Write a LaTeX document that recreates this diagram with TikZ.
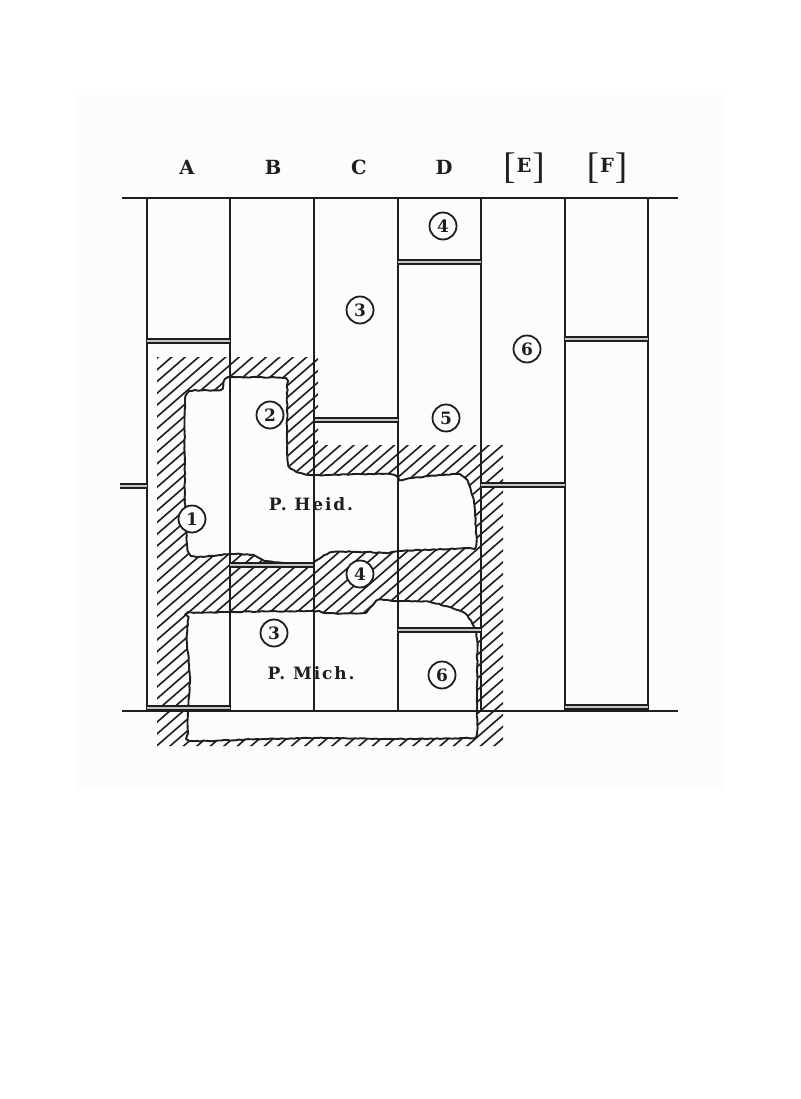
\documentclass[tikz,border=0pt]{standalone}
\usepackage{fontspec}
\setmainfont{DejaVu Serif}
\newfontfamily\lblfont[LetterSpace=11]{DejaVu Serif}
\newfontfamily\brkfont{Liberation Serif}
\usetikzlibrary{decorations.pathmorphing}
\definecolor{ink}{HTML}{1E1E1E}
\definecolor{paper}{HTML}{FDFCFA}
\tikzset{
  gridline/.style={draw=ink,line width=1.8pt},
  wall/.style={draw=ink,line width=2pt},
  bar/.style={draw=ink,double=gray!45,double distance=1.8pt,line width=1.9pt},
  hatchline/.style={draw=ink,line width=1.6pt},
  edge/.style={draw=ink,line width=1.9pt,line join=round,decorate,decoration={random steps,segment length=3pt,amplitude=.45pt}},
  num/.style={circle,draw=ink,line width=1.8pt,fill=paper,minimum size=27pt,inner sep=0pt,text=ink,font=\fontsize{17}{17}\selectfont\bfseries},
  head/.style={text=ink,inner sep=0pt,font=\fontsize{19.5}{20}\selectfont\bfseries},
  papy/.style={text=ink,inner sep=0pt,font=\lblfont\fontsize{17}{18}\selectfont\bfseries},
}
\newcommand{\holeA}{plot[smooth cycle,tension=.35] coordinates{(185,402)(192,391)(220,390)(228,378)(283,378)(287,387)(287,427)(288,463)(297,472)(315,475)(390,474)(400,480)(413,478)(457,474)(468,482)(474,503)(476,530)(476,546)(470,548)(400,551)(388,553)(367,552)(333,552)(317,560)(310,565)(267,561)(253,555)(230,554)(197,557)(188,550)(185,500)}}
\newcommand{\holeB}{plot[smooth cycle,tension=.35] coordinates{(188,620)(193,613)(313,611)(320,613)(363,613)(378,600)(397,601)(430,602)(463,612)(473,625)(477,640)(477,710)(477,733)(470,738)(397,739)(330,738)(263,739)(192,741)(188,733)(188,710)(190,677)(187,643)}}
\newcommand{\brk}[1]{{\brkfont\mdseries\fontsize{37}{37}\selectfont #1}}
\begin{document}
\begin{tikzpicture}[x=1pt,y=-1pt]
\useasboundingbox (0,0) rectangle (800,1099);
\fill[white] (0,0) rectangle (800,1099);
\fill[paper] (75,95) rectangle (725,790);
% hatching
\begin{scope}[even odd rule]
\clip (157,357) -- (318,357) -- (318,445) -- (503,445) -- (503,746) -- (157,746) -- cycle \holeA \holeB;
\foreach \i in {-1,...,68}{
  \pgfmathsetmacro{\xa}{432-13.5*\i}
  \pgfmathsetmacro{\xb}{\xa+600}
  \draw[hatchline] (\xa,800) -- (\xb,278);
}
\end{scope}
% torn edges
\pgfmathsetseed{7}
\draw[edge] \holeA;
\draw[edge] \holeB;
% columns
\foreach \x/\n in {147/a,230/b,314/c,398/d,481/e,565/f,648/g}{
  \coordinate (t\n) at (\x,198);
  \coordinate (b\n) at (\x,711);
  \draw[gridline] (t\n) -- (b\n);
}
\coordinate (tl) at (122,198); \coordinate (tr) at (678,198);
\coordinate (bl) at (122,711); \coordinate (br) at (678,711);
\draw[wall] (tl) -- (tr);
\draw[wall] (bl) -- (br);
% double bars
\foreach \xa/\xb/\y in {147/230/341,314/398/420,398/481/262,565/648/339,481/565/485,120/147/486,230/314/565,398/481/630,147/230/708,565/648/707}{
  \draw[bar] (\xa,\y) -- (\xb,\y);
}
% headers
\node[head] (hA) at (187,167) {A};
\node[head] (hB) at (273,167) {B};
\node[head] (hC) at (359,167) {C};
\node[head] (hD) at (444,167) {D};
\node[head] (hE) at (524,168) {\brk{[}\hspace{1pt}\raisebox{6pt}{E}\hspace{1pt}\brk{]}};
\node[head] (hF) at (607,168) {\brk{[}\hspace{1pt}\raisebox{6pt}{F}\hspace{1pt}\brk{]}};
% numbers
\node[num] (n4a) at (443,226) {4};
\node[num] (n3a) at (360,310) {3};
\node[num] (n6a) at (527,349) {6};
\node[num] (n5)  at (446,418) {5};
\node[num] (n2)  at (270,415) {2};
\node[num] (n1)  at (192,519) {1};
\node[num] (n4b) at (360,574) {4};
\node[num] (n3b) at (274,633) {3};
\node[num] (n6b) at (442,675) {6};
% labels
\node[papy] (heid) at (311,504) {P. Heid.};
\node[papy] (mich) at (311,673) {P. Mich.};
\draw[gridline] (tc) -- (bc);
\end{tikzpicture}
\end{document}
